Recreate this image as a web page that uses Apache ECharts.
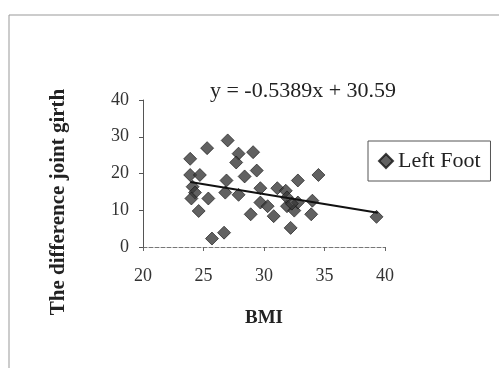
<!DOCTYPE html>
<html>
<head>
<meta charset="utf-8">
<script src="https://cdn.jsdelivr.net/npm/echarts@6/dist/echarts.min.js"></script>
<style>
html, body { margin: 0; padding: 0; background: #fff; }
#chart { width: 499px; height: 368px; }
</style>
</head>
<body>
<div id="chart"></div>
<script>
// BMI vs difference in joint girth, left foot
var bmi = [23.9, 23.9, 24.7, 25.3, 27.0, 27.9, 27.7, 29.1, 29.4, 28.4, 26.9, 24.1, 24.3, 24.0,
	25.4, 24.6, 26.8, 27.9, 29.7, 29.7, 30.3, 28.9, 30.8, 31.1, 31.8, 31.9, 32.5, 32.2,
	32.8, 32.8, 34.0, 33.9, 34.5, 39.3, 25.7, 26.7, 31.9, 32.3];
var girth = [24.0, 19.6, 19.6, 26.9, 29.0, 25.4, 23.0, 25.8, 20.8, 19.2, 18.1, 16.4, 14.8, 13.2,
	13.2, 9.8, 14.8, 14.2, 16.0, 12.1, 11.1, 8.9, 8.4, 16.0, 15.3, 11.1, 9.9, 5.2,
	18.1, 12.1, 12.6, 8.9, 19.6, 8.2, 2.3, 3.9, 13.5, 11.8];
var trendX = [23.9, 39.4];
var trendY = [17.7, 9.35];
var xTicks = [20, 25, 30, 35, 40];
var yTicks = [0, 10, 20, 30, 40];
var equation = 'y = -0.5389x + 30.59';

var points = [];
for (var i = 0; i < bmi.length; i++) {
	points.push([bmi[i], girth[i]]);
}
var trend = [[trendX[0], trendY[0]], [trendX[1], trendY[1]]];

var chart = echarts.init(document.getElementById('chart'));
var serif = '"Liberation Serif", "DejaVu Serif", serif';
var option = {
	animation: false,
	backgroundColor: '#fff',
	textStyle: { fontFamily: serif },
	grid: { left: 143, right: 114, top: 100, bottom: 121 },
	graphic: [{
		type: 'rect',
		shape: { x: 9, y: 15, width: 500, height: 360 },
		style: { fill: 'none', stroke: '#999', lineWidth: 1 }
	}, {
		type: 'text',
		x: 303, y: 91,
		style: { text: equation, fill: '#222', font: '22px ' + serif, align: 'center', verticalAlign: 'middle' }
	}, {
		// y axis title sits lower than the axis centre in the original
		type: 'text',
		x: 59, y: 202,
		rotation: Math.PI / 2,
		style: { text: 'The difference joint girth', fill: '#222', font: 'bold 21px ' + serif, align: 'center', verticalAlign: 'middle' }
	}, {
		type: 'text',
		x: 264, y: 318,
		style: { text: 'BMI', fill: '#222', font: 'bold 19px ' + serif, align: 'center', verticalAlign: 'middle' }
	}],
	legend: {
		left: 368, top: 141,
		orient: 'vertical',
		itemWidth: 14, itemHeight: 14,
		itemGap: 0,
		padding: [9, 10, 9, 10],
		borderColor: '#555', borderWidth: 1,
		textStyle: { fontSize: 22, color: '#222', fontFamily: serif },
		data: [{ name: 'Left Foot', icon: 'diamond' }]
	},
	xAxis: {
		type: 'value',
		min: 20, max: 40, interval: 5,
		axisLine: { lineStyle: { color: '#777', type: 'dashed' } },
		axisTick: { show: true, length: 4, lineStyle: { color: '#666' } },
		axisLabel: {
			fontSize: 18, color: '#333', margin: 20, fontFamily: serif,
			formatter: function(v) { return xTicks.indexOf(v) >= 0 ? String(v) : ''; }
		},
		splitLine: { show: false }
	},
	yAxis: {
		type: 'value',
		min: 0, max: 40, interval: 10,
		axisLine: { show: true, lineStyle: { color: '#555' } },
		axisTick: { show: true, length: 4, lineStyle: { color: '#555' } },
		axisLabel: {
			fontSize: 18, color: '#333', margin: 14, fontFamily: serif,
			formatter: function(v) { return yTicks.indexOf(v) >= 0 ? String(v) : ''; }
		},
		splitLine: { show: false }
	},
	series: [{
		name: 'Left Foot',
		type: 'scatter',
		symbol: 'diamond',
		symbolSize: 13,
		itemStyle: { color: '#3a3a3a', borderColor: '#111', borderWidth: 0.8 },
		data: points
	}, {
		name: 'trend',
		type: 'line',
		symbol: 'none',
		lineStyle: { color: '#111', width: 2 },
		data: trend,
		z: 3
	}]
};
chart.setOption(option);
</script>
</body>
</html>
